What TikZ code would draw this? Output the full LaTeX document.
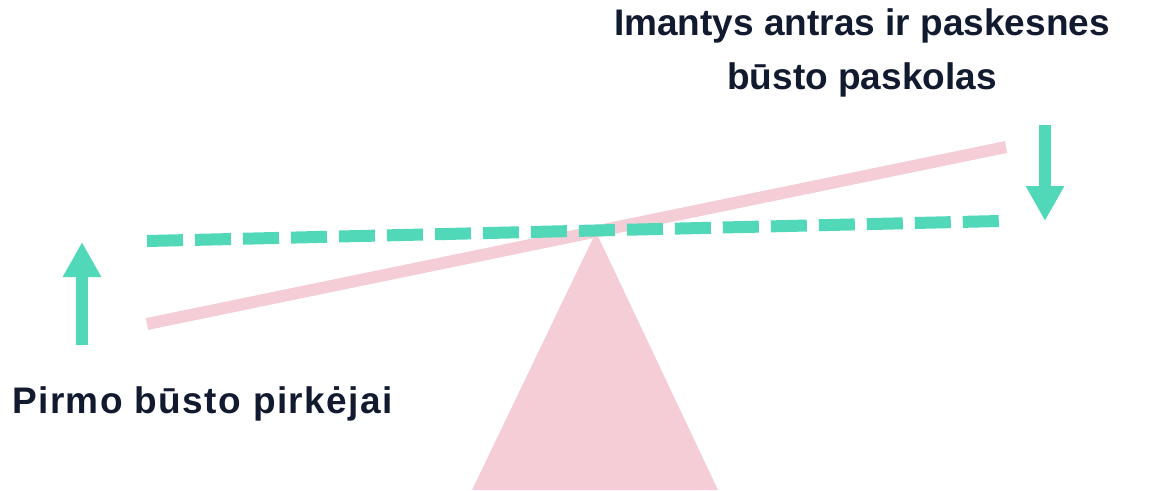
\documentclass[tikz,border=0pt]{standalone}
\usepackage{fontspec}
\setmainfont{Liberation Sans}
\usetikzlibrary{arrows.meta}

\definecolor{mint}{RGB}{80,216,184}
\definecolor{blush}{RGB}{244,205,214}
\definecolor{ink}{RGB}{17,26,46}

\begin{document}
\begin{tikzpicture}[x=1pt, y=-1pt]
                  \tikzstyle{lbl}=[font=\fontsize{37}{54}\selectfont\bfseries, text=ink, inner sep=0pt]
                  \tikzstyle{beam}=[blush, line width=12pt]
                  \tikzstyle{level}=[mint, line width=12pt, dash pattern=on 36pt off 12pt]
                  \tikzstyle{move}=[mint, line width=12pt, -{Triangle[width=36pt, length=35pt]}]

                  \useasboundingbox (0,0) rectangle (1158,490);

                  % pivot and beam
                  \coordinate (apex) at (596,232);
                  \fill[blush] (apex) -- (718,490) -- (472,490) -- cycle;
                  \coordinate (beamL) at (147,324);
                  \coordinate (beamR) at (1006,147);
                  \draw[beam] (beamL) -- (beamR);

                  % balanced level
                  \coordinate (levL) at (147,241);
                  \coordinate (levR) at (1000,221);
                  \draw[level] (levL) -- (levR);

                  % arrows
                  \coordinate (upS) at (82,345);
                  \coordinate (upE) at (82,242);
                  \draw[move] (upS) -- (upE);
                  \coordinate (dnS) at (1045,125);
                  \coordinate (dnE) at (1045,221);
                  \draw[move] (dnS) -- (dnE);

                  % labels
                  \node[lbl, anchor=base west] (first) at (12,413) {\addfontfeatures{LetterSpace=4}Pirmo būsto pirkėjai};
                  \node[lbl, anchor=north, align=center] (second) at (862,8) {Imantys antras ir paskesnes\\būsto paskolas};
\end{tikzpicture}
\end{document}
